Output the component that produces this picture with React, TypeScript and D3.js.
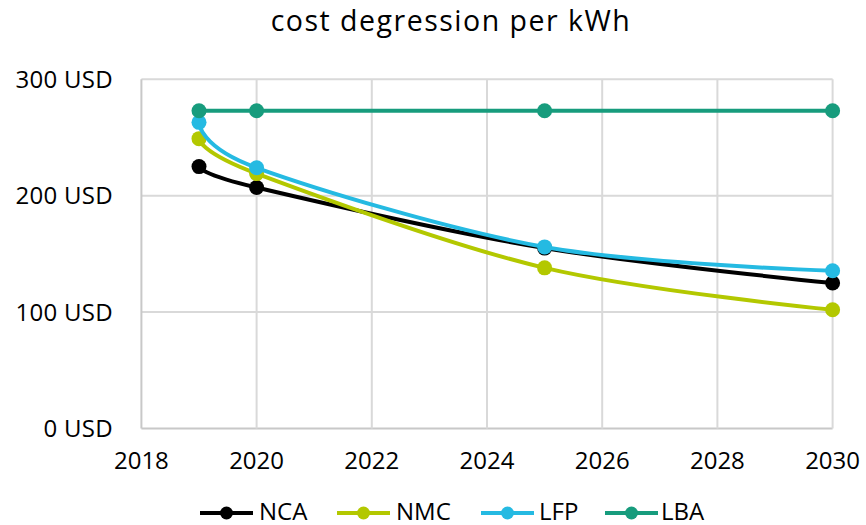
import React from "react";
import * as d3 from "d3";

const W = 866;
const H = 525;

const years = [2019, 2020, 2025, 2030];
const nca = [225, 207, 155, 125];
const nmc = [249, 219, 138, 102];
const lfp = [263, 224, 156, 135.5];
const lba = [273, 273, 273, 273];

const seriesNames = ["NCA", "NMC", "LFP", "LBA"];
const seriesColors = ["#000000", "#b3c800", "#25bae2", "#179c7d"];
const seriesValues = [nca, nmc, lfp, lba];

const xTicks = [2018, 2020, 2022, 2024, 2026, 2028, 2030];
const yTicks = [0, 100, 200, 300];

const title = "cost degression per kWh";
const font = "'Open Sans', 'Noto Sans', sans-serif";

export default function App() {
  const x = d3.scaleLinear().domain([2018, 2030]).range([141.4, 832.6]);
  const y = d3.scaleLinear().domain([0, 300]).range([428.5, 79.3]);

  const line = d3
    .line<[number, number]>()
    .x((d) => x(d[0]))
    .y((d) => y(d[1]))
    .curve(d3.curveCardinal.tension(0));

  const legendItems = [
    { lineX: 200, textX: 259 },
    { lineX: 337, textX: 396 },
    { lineX: 481, textX: 539 },
    { lineX: 605, textX: 661 },
  ];

  return (
    <div style={{ position: "absolute", left: 0, top: 0 }}>
      <svg width={W} height={H} style={{ display: "block", background: "#fff" }}>
        <text
          x={451}
          y={31}
          textAnchor="middle"
          fontFamily={font}
          fontSize={28.5}
          letterSpacing={1.5}
          fill="#000"
        >
          {title}
        </text>

        {/* grid */}
        {yTicks.map((t) => (
          <line
            key={"gy" + t}
            x1={x(2018)}
            x2={x(2030)}
            y1={y(t)}
            y2={y(t)}
            stroke={t === 0 ? "#c8c8c8" : "#d9d9d9"}
            strokeWidth={2}
          />
        ))}
        {xTicks.map((t) => (
          <line
            key={"gx" + t}
            x1={x(t)}
            x2={x(t)}
            y1={y(0)}
            y2={y(300)}
            stroke={t === 2018 ? "#c8c8c8" : "#d9d9d9"}
            strokeWidth={2}
          />
        ))}

        {/* y labels */}
        {yTicks.map((t) => (
          <text
            key={"ly" + t}
            x={113}
            y={y(t) + 8.5}
            textAnchor="end"
            fontFamily={font}
            fontSize={24}
            letterSpacing={0.3}
            fill="#000"
          >
            {t + " USD"}
          </text>
        ))}
        {/* x labels */}
        {xTicks.map((t) => (
          <text
            key={"lx" + t}
            x={x(t)}
            y={468.5}
            textAnchor="middle"
            fontFamily={font}
            fontSize={24}
            fill="#000"
          >
            {t}
          </text>
        ))}

        {/* series */}
        {seriesValues.map((vals, i) => {
          const pts = years.map((yr, j) => [yr, vals[j]] as [number, number]);
          return (
            <g key={seriesNames[i]}>
              <path
                d={line(pts) || ""}
                fill="none"
                stroke={seriesColors[i]}
                strokeWidth={4}
                strokeLinejoin="round"
                strokeLinecap="round"
              />
              {pts.map((p, j) => (
                <circle
                  key={j}
                  cx={x(p[0])}
                  cy={y(p[1])}
                  r={7.5}
                  fill={seriesColors[i]}
                />
              ))}
            </g>
          );
        })}

        {/* legend */}
        {legendItems.map((it, i) => (
          <g key={"lg" + i}>
            <line
              x1={it.lineX}
              x2={it.lineX + 53}
              y1={513}
              y2={513}
              stroke={seriesColors[i]}
              strokeWidth={4}
            />
            <circle cx={it.lineX + 26.5} cy={513} r={6.5} fill={seriesColors[i]} />
            <text
              x={it.textX}
              y={519.5}
              fontFamily={font}
              fontSize={24}
              fill="#000"
            >
              {seriesNames[i]}
            </text>
          </g>
        ))}
      </svg>
    </div>
  );
}
